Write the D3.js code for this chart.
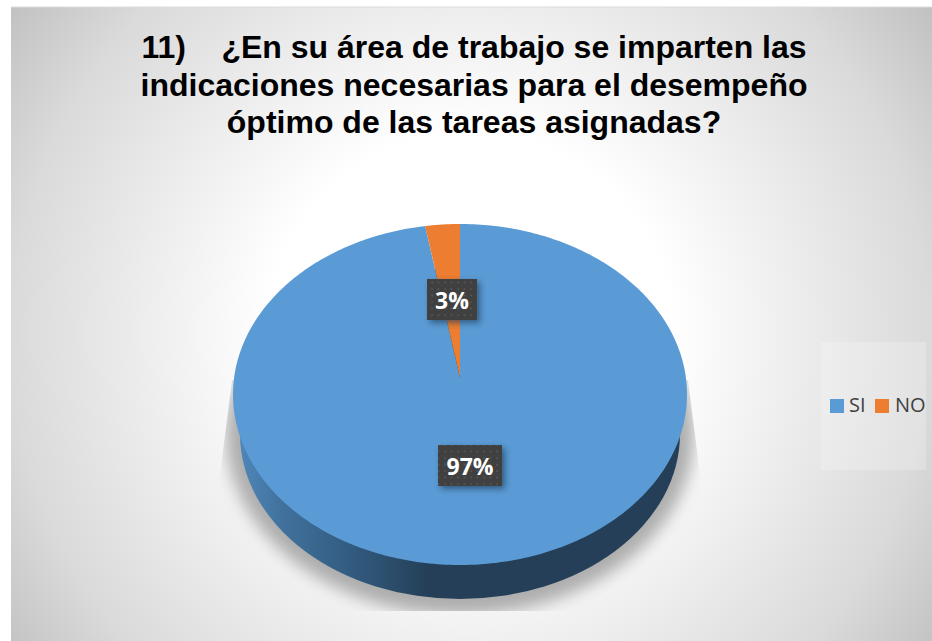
<!DOCTYPE html>
<html>
<head>
<meta charset="utf-8"/>
<title>Indicaciones</title>
<style>
html, body { margin: 0; padding: 0; background: #fff; }
svg { display: block; }
</style>
</head>
<body>
<svg width="932" height="641"></svg>
<script src="https://d3js.org/d3.v7.min.js"></script>
<script>

var categories = ["SI", "NO"];
var values = [0.973, 0.027];
var colors = ["#5b9bd5", "#ed7d31"];
var titleLines = [
  "11)    ¿En su área de trabajo se imparten las",
  "indicaciones necesarias para el desempeño",
  "óptimo de las tareas asignadas?"
];

var svg = d3.select("svg");
var defs = svg.append("defs");

// page background, radial grey like the office chart style
var bg = defs.append("radialGradient").attr("id", "bg")
    .attr("gradientUnits", "userSpaceOnUse")
    .attr("cx", 470).attr("cy", 335).attr("r", 575);
bg.append("stop").attr("offset", "0.35").attr("stop-color", "#ffffff");
bg.append("stop").attr("offset", "0.8").attr("stop-color", "#dadada");
bg.append("stop").attr("offset", "1").attr("stop-color", "#bfbfbf");

svg.append("rect")
    .attr("x", 11).attr("y", 7).attr("width", 921).attr("height", 634)
    .attr("fill", "url(#bg)");
svg.append("line")
    .attr("x1", 11).attr("x2", 932).attr("y1", 7).attr("y2", 7)
    .attr("stroke", "#dcdcdc");

var title = svg.append("text")
    .attr("text-anchor", "middle")
    .style("font-family", "'Liberation Sans', Arial, sans-serif")
    .style("font-weight", "bold")
    .style("font-size", "32px")
    .attr("fill", "#000000");
titleLines.forEach(function(line, i) {
  title.append("tspan")
      .attr("x", 474)
      .attr("y", 58 + i * 37.5)
      .style("white-space", "pre")
      .text(line);
});

// pie geometry: top face ellipse, tilted so the apex sits above its centre
var cx = 460, cy = 394.5, rx = 227, ry = 170.5;
var tilt = 16.5 / ry;
var apex = [cx, cy - tilt * ry];
// lower face seen in perspective, a little narrower than the top one
var base = { cy: 434, rx: 220, ry: 165 };

function project(a) {
  var u = Math.sin(a), v = -Math.cos(a);
  var k = 1 - tilt * v;
  return [
    cx + rx * u * Math.sqrt(1 - tilt * tilt) / k,
    cy + ry * (v - tilt) / k
  ];
}

var line = d3.line();
var pie = d3.pie().sort(null).value(function(d) { return d; });
var arcs = pie(values);

function wedge(d) {
  var n = Math.max(4, Math.round((d.endAngle - d.startAngle) * 60));
  var pts = d3.range(n + 1).map(function(i) {
    return project(d.startAngle + (d.endAngle - d.startAngle) * i / n);
  });
  return line([apex].concat(pts)) + "Z";
}

// soft shadow under the pie, cut off flat at the bottom
var blur = defs.append("filter").attr("id", "blur")
    .attr("x", "-20%").attr("y", "-20%").attr("width", "140%").attr("height", "140%");
blur.append("feGaussianBlur").attr("stdDeviation", 8);
defs.append("clipPath").attr("id", "shadowClip").append("path")
    .attr("d", line([[232, 380], [688, 380], [702, 490], [702, 611], [218, 611], [218, 490]]) + "Z");
svg.append("g").attr("clip-path", "url(#shadowClip)")
  .append("ellipse")
    .attr("cx", cx).attr("cy", base.cy)
    .attr("rx", base.rx + 14).attr("ry", base.ry + 16)
    .attr("fill", "#adadad")
    .attr("filter", "url(#blur)");

// side wall
var rim = defs.append("linearGradient").attr("id", "rim")
    .attr("gradientUnits", "userSpaceOnUse")
    .attr("x1", cx - base.rx).attr("x2", cx + base.rx).attr("y1", 0).attr("y2", 0);
[[0, "#4f86b8"], [0.1, "#40719c"], [0.28, "#30577a"], [0.43, "#243f57"], [1, "#243f57"]].forEach(function(s) {
  rim.append("stop").attr("offset", s[0]).attr("stop-color", s[1]);
});
svg.append("ellipse")
    .attr("cx", cx).attr("cy", base.cy)
    .attr("rx", base.rx).attr("ry", base.ry)
    .attr("fill", "url(#rim)");

// top face
svg.append("g").selectAll("path")
  .data(arcs)
  .enter().append("path")
    .attr("d", wedge)
    .attr("fill", function(d, i) { return colors[i]; });

// data labels: dark dotted box with a drop shadow
var dots = defs.append("pattern").attr("id", "dots")
    .attr("patternUnits", "userSpaceOnUse")
    .attr("width", 6.5).attr("height", 6.5);
dots.append("rect").attr("width", 6.5).attr("height", 6.5).attr("fill", "#3f3f3f");
dots.append("circle").attr("cx", 3).attr("cy", 3).attr("r", 1).attr("fill", "#5a5a5a");

var labelShadow = defs.append("filter").attr("id", "labelShadow")
    .attr("x", "-30%").attr("y", "-30%").attr("width", "170%").attr("height", "170%");
labelShadow.append("feDropShadow")
    .attr("dx", 3).attr("dy", 3).attr("stdDeviation", 3)
    .attr("flood-color", "#1d3a55").attr("flood-opacity", 0.65);

var fmt = d3.format(".0%");
var labelBoxes = [
  { x: 438, y: 445, w: 64, h: 41 },
  { x: 427, y: 279, w: 50, h: 41 }
];
var labels = svg.append("g").selectAll("g")
  .data(arcs)
  .enter().append("g");
labels.append("rect")
    .attr("x", function(d, i) { return labelBoxes[i].x; })
    .attr("y", function(d, i) { return labelBoxes[i].y; })
    .attr("width", function(d, i) { return labelBoxes[i].w; })
    .attr("height", function(d, i) { return labelBoxes[i].h; })
    .attr("fill", "url(#dots)")
    .attr("filter", "url(#labelShadow)");
labels.append("text")
    .attr("x", function(d, i) { return labelBoxes[i].x + labelBoxes[i].w / 2; })
    .attr("y", function(d, i) { return labelBoxes[i].y + 30; })
    .attr("text-anchor", "middle")
    .attr("fill", "#ffffff")
    .style("font-family", "'Open Sans', sans-serif")
    .style("font-weight", "bold")
    .style("font-size", "23px")
    .text(function(d) { return fmt(d.data); });

// legend
svg.append("rect")
    .attr("x", 821).attr("y", 342).attr("width", 105).attr("height", 128)
    .attr("fill", "#ffffff").attr("fill-opacity", 0.22);
var legendX = d3.scaleOrdinal().domain(categories).range([830, 875]);
var legend = svg.append("g").selectAll("g")
  .data(categories)
  .enter().append("g")
    .attr("transform", function(d) { return "translate(" + legendX(d) + ",399)"; });
legend.append("rect")
    .attr("width", 14).attr("height", 14)
    .attr("fill", function(d, i) { return colors[i]; });
legend.append("text")
    .attr("x", function(d, i) { return i ? 20 : 19; })
    .attr("y", 13)
    .attr("fill", "#404040")
    .style("font-family", "'Open Sans', sans-serif")
    .style("font-size", "20px")
    .text(function(d) { return d; });

</script>
</body>
</html>
